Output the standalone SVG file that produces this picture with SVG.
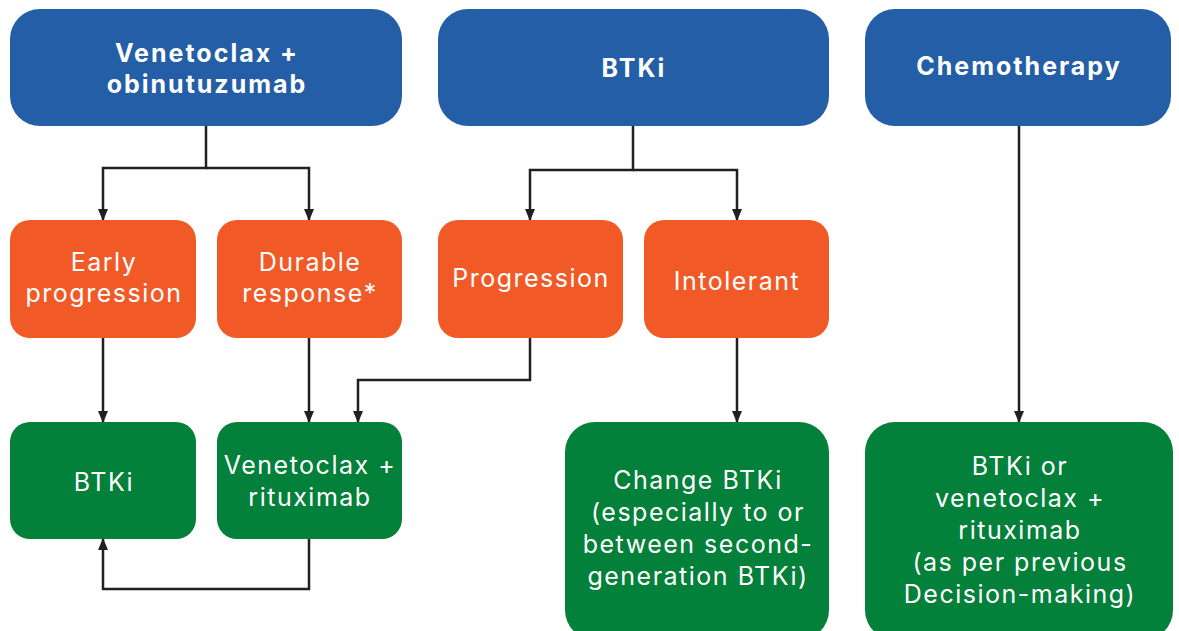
<svg xmlns="http://www.w3.org/2000/svg" width="1179" height="631" viewBox="0 0 1179 631">
<defs>
<style>
.blue{fill:#235EA6}
.orange{fill:#F15A27}
.green{fill:#03803A}
text{font-family:Inter,"Open Sans",sans-serif;fill:#fff;text-anchor:middle;font-size:25px;letter-spacing:1.5px}
.b{font-weight:700;letter-spacing:2px}
.c{fill:none;stroke:#231F20;stroke-width:2.5}
</style>
<marker id="ah" markerWidth="12" markerHeight="10" refX="11" refY="5" orient="auto" markerUnits="userSpaceOnUse">
<path d="M0,0 L12,5 L0,10 Z" fill="#231F20"/>
</marker>
</defs>
<rect width="1179" height="631" fill="#fff"/>
<g id="connectors">
<path class="c" d="M206,126 V168 H103 V220" marker-end="url(#ah)"/>
<path class="c" d="M206,168 H309 V220" marker-end="url(#ah)"/>
<path class="c" d="M633,126 V170 H530 V220" marker-end="url(#ah)"/>
<path class="c" d="M633,170 H737 V220" marker-end="url(#ah)"/>
<path class="c" d="M1019,126 V422" marker-end="url(#ah)"/>
<path class="c" d="M103,338 V422" marker-end="url(#ah)"/>
<path class="c" d="M309,338 V422" marker-end="url(#ah)"/>
<path class="c" d="M530,338 V380 H358 V422" marker-end="url(#ah)"/>
<path class="c" d="M737,338 V422" marker-end="url(#ah)"/>
<path class="c" d="M309,539 V589 H103 V539" marker-end="url(#ah)"/>
</g>
<g id="n-ven-obi"><rect class="blue" x="10" y="9" width="392" height="117" rx="30"/><text class="b" x="207" y="62">Venetoclax +</text><text class="b" x="207" y="93">obinutuzumab</text></g>
<g id="n-btki-top"><rect class="blue" x="438" y="9" width="391" height="117" rx="30"/><text class="b" x="634" y="77">BTKi</text></g>
<g id="n-chemo"><rect class="blue" x="865" y="9" width="306" height="117" rx="30"/><text class="b" x="1019" y="75">Chemotherapy</text></g>
<g id="n-early"><rect class="orange" x="10" y="220" width="186" height="118" rx="20"/><text x="104" y="271">Early</text><text x="104" y="302">progression</text></g>
<g id="n-durable"><rect class="orange" x="217" y="220" width="185" height="118" rx="20"/><text x="310" y="271">Durable</text><text x="310" y="302">response*</text></g>
<g id="n-progression"><rect class="orange" x="438" y="220" width="185" height="118" rx="20"/><text x="531" y="287">Progression</text></g>
<g id="n-intolerant"><rect class="orange" x="644" y="220" width="185" height="118" rx="20"/><text x="737" y="290">Intolerant</text></g>
<g id="n-btki"><rect class="green" x="10" y="422" width="186" height="117" rx="20"/><text x="104" y="491">BTKi</text></g>
<g id="n-ven-ritux"><rect class="green" x="217" y="422" width="185" height="117" rx="20"/><text x="310" y="474">Venetoclax +</text><text x="310" y="506">rituximab</text></g>
<g id="n-change"><rect class="green" x="565" y="422" width="264" height="218" rx="30"/><text x="698" y="489">Change BTKi</text><text x="698" y="521">(especially to or</text><text x="698" y="553">between second-</text><text x="698" y="585">generation BTKi)</text></g>
<g id="n-btki-or"><rect class="green" x="865" y="422" width="308" height="218" rx="30"/><text x="1020" y="475">BTKi or</text><text x="1020" y="507">venetoclax +</text><text x="1020" y="539">rituximab</text><text x="1020" y="571">(as per previous</text><text x="1020" y="603">Decision-making)</text></g>
</svg>
